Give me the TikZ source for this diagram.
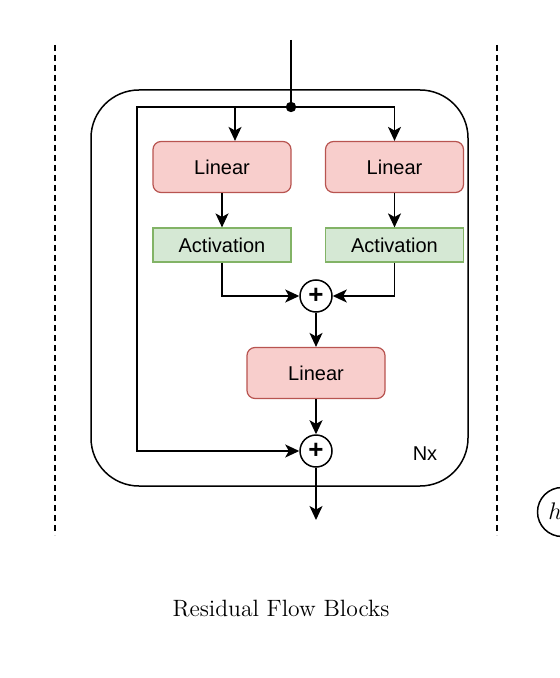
\documentclass[tikz,border=0pt]{standalone}
\usepackage{fontspec}
\setsansfont{Liberation Sans}
\usetikzlibrary{arrows.meta,shapes}
\definecolor{linfill}{HTML}{F8CECC}
\definecolor{lindraw}{HTML}{B85450}
\definecolor{actfill}{HTML}{D5E8D4}
\definecolor{actdraw}{HTML}{82B366}
\tikzstyle{linear}=[rectangle,rounded corners=4pt,fill=linfill,draw=lindraw,line width=0.6pt,minimum width=69pt,minimum height=25.5pt,inner sep=0pt,font=\sffamily\fontsize{10}{12}\selectfont]
\tikzstyle{activation}=[rectangle,fill=actfill,draw=actdraw,line width=0.6pt,minimum width=69pt,minimum height=17pt,inner sep=0pt,font=\sffamily\fontsize{10}{12}\selectfont]
\tikzstyle{adder}=[circle,draw,line width=0.75pt,minimum size=16pt,inner sep=0pt,font=\sffamily\bfseries\fontsize{13}{13}\selectfont]
\tikzstyle{edge} = [draw,line width=0.75pt,-{Stealth[length=7pt,width=6.5pt,inset=1.8pt]}]
\tikzstyle{plainedge} = [draw,line width=0.75pt]
\tikzstyle{divider} = [draw,line width=0.6pt,dash pattern=on 3pt off 2pt]

\begin{document}
\begin{tikzpicture}[x=0.5pt,y=-0.5pt]
    \useasboundingbox (0,0) rectangle (559,678);

    % dashed separators and the block frame
    \foreach \x in {55,497}
        \path[divider] (\x,45) -- (\x,535);
    \draw[line width=0.75pt,rounded corners=24pt] (91,90) rectangle (468,486);

    % nodes
    \foreach \pos/ \name in {{(222,167)/lin1}, {(394.5,167)/lin2}, {(316,373)/lin3}}
        \node[linear] (\name) at \pos {Linear};
    \foreach \pos/ \name in {{(222,245)/act1}, {(394.5,245)/act2}}
        \node[activation] (\name) at \pos {Activation};
    \node[adder] (add1) at (316,296) {+};
    \node[adder] (add2) at (316,451) {+};
    \node[font=\sffamily\fontsize{10}{12}\selectfont] (nx) at (425,454) {Nx};

    \coordinate (in) at (291,40);
    \coordinate (jn) at (291,107);
    \coordinate (lp) at (137,107);
    \coordinate (out) at (316,520);

    % connections
    \path[plainedge] (in) -- (jn);
    \fill (jn) circle (2.6pt);
    \path[edge] (jn) -| ([xshift=6.5pt]lin1.north);
    \path[edge] (jn) -| (lin2.north);
    \path[edge] (jn) -- (lp) |- (add2);
    \foreach \source/ \dest in {lin1/act1, lin2/act2, add1/lin3, lin3/add2, add2/out}
        \path[edge] (\source) -- (\dest);
    \path[edge] (act1) |- (add1);
    \path[edge] (act2) |- (add1);

    % next block, cut off at the edge
    \node[circle,draw,line width=0.75pt,minimum size=24.5pt] (hnode) at (562,512) {};
    \node[anchor=west,inner sep=0pt,font=\fontsize{13}{15}\selectfont] (hlabel) at (548,511) {$h$};

    \node[font=\fontsize{11.8}{14}\selectfont] (caption) at (281,609) {Residual Flow Blocks};
\end{tikzpicture}
\end{document}
